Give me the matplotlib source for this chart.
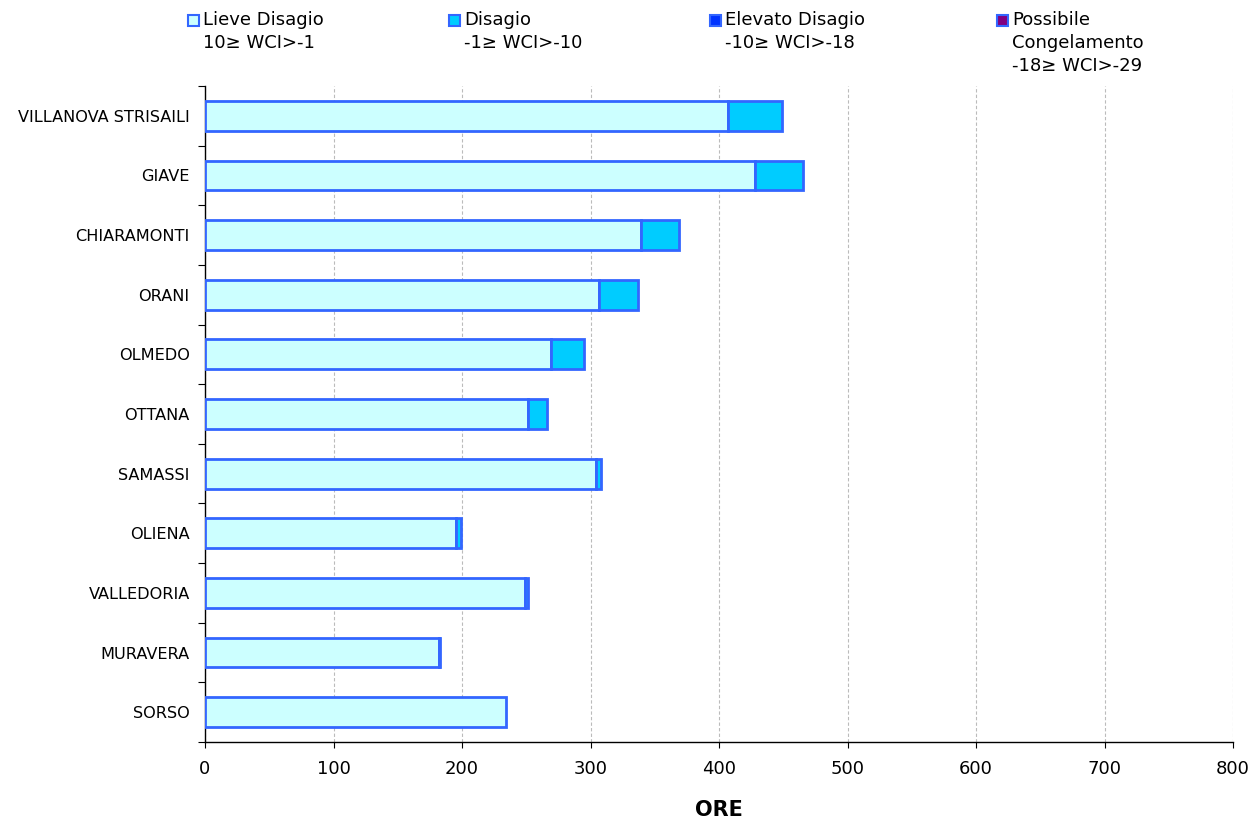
import matplotlib
matplotlib.use("Agg")
import matplotlib.pyplot as plt
from matplotlib.patches import Rectangle
import numpy as np

# Stations (top to bottom) and hours per wind-chill class
stations = ["VILLANOVA STRISAILI", "GIAVE", "CHIARAMONTI", "ORANI", "OLMEDO",
            "OTTANA", "SAMASSI", "OLIENA", "VALLEDORIA", "MURAVERA", "SORSO"]
lieve = [407, 428, 339, 307, 269, 251, 304, 195, 249, 182, 234]
disagio = [42, 37, 30, 30, 26, 15, 4, 4, 2, 1, 0]
elevato = [0, 0, 0, 0, 0, 0, 0, 0, 0, 0, 0]
congelamento = [0, 0, 0, 0, 0, 0, 0, 0, 0, 0, 0]

series = [
    ("Lieve Disagio\n10\u2265 WCI>-1", lieve, "#CCFFFF"),
    ("Disagio\n-1\u2265 WCI>-10", disagio, "#00CCFF"),
    ("Elevato Disagio\n-10\u2265 WCI>-18", elevato, "#0033FF"),
    ("Possibile\nCongelamento\n-18\u2265 WCI>-29", congelamento, "#800080"),
]
edge = "#3366FF"
xticks = [0, 100, 200, 300, 400, 500, 600, 700, 800]

plt.rcParams["font.family"] = ["DejaVu Sans"]
fig = plt.figure(figsize=(12.53, 8.18), dpi=100)
ax = fig.add_axes([205 / 1253, 76 / 818, 1028 / 1253, 656 / 818])

y = np.arange(len(stations))
left = np.zeros(len(stations))
for label, vals, color in series:
    vals = np.array(vals, dtype=float)
    mask = vals > 0
    ax.barh(y[mask], vals[mask], left=left[mask], height=0.5, color=color,
            edgecolor=edge, linewidth=2.0, zorder=3)
    left += vals

ax.set_ylim(len(stations) - 0.5, -0.5)
ax.set_xlim(0, 800)
ax.set_xticks(xticks)
ax.set_xticklabels([str(v) for v in xticks], fontsize=13)
ax.set_yticks(y)
ax.set_yticklabels(stations, fontsize=11.6)
ax.set_yticks(np.arange(-0.5, len(stations), 1.0), minor=True)
ax.tick_params(axis="y", which="major", length=0, pad=11)
ax.tick_params(axis="y", which="minor", length=5, direction="out", width=0.8)
ax.tick_params(axis="x", which="major", length=4, direction="out", width=0.8, pad=9)

ax.grid(axis="x", color="#BBBBBB", linestyle=(0, (3, 2)), linewidth=0.8, zorder=0)
for s in ["top", "right"]:
    ax.spines[s].set_visible(False)
for s in ["left", "bottom"]:
    ax.spines[s].set_color("black")
    ax.spines[s].set_linewidth(1.0)

ax.set_xlabel("ORE", fontsize=15, fontweight="bold", labelpad=16)

# Legend along the top
legend_x = [188, 449, 710, 997]
for (label, vals, color), lx in zip(series, legend_x):
    fig.patches.append(Rectangle((lx / 1253, 1 - 26 / 818), 11 / 1253, 11 / 818,
                                 transform=fig.transFigure, facecolor=color,
                                 edgecolor=edge, linewidth=1.5))
    for i, line in enumerate(label.split("\n")):
        fig.text((lx + 15) / 1253, 1 - (20 + 23 * i) / 818, line,
                 fontsize=13, va="center", ha="left")

fig.savefig("out.png", dpi=100)
